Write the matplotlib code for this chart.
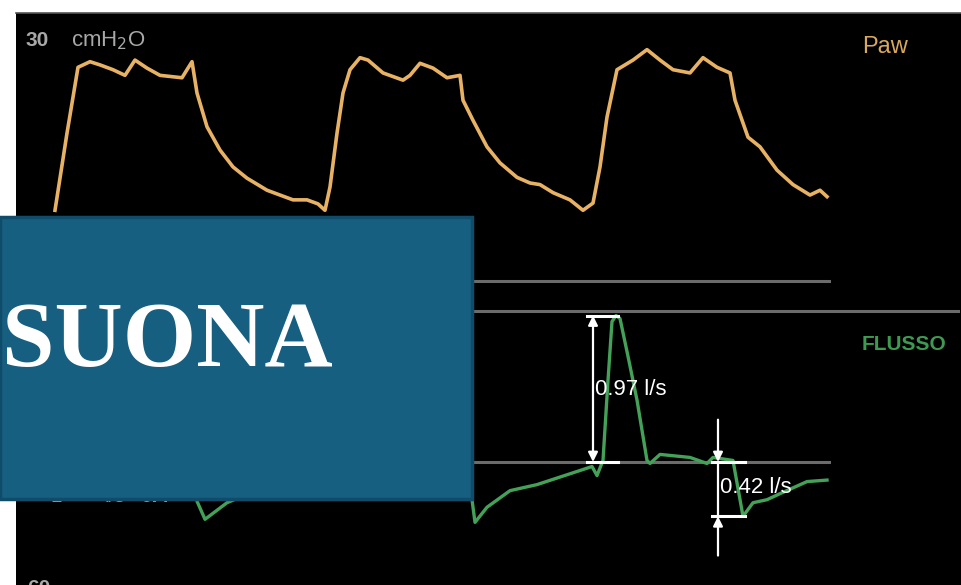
import matplotlib
matplotlib.use("Agg")
import matplotlib.pyplot as plt
import numpy as np
from matplotlib.patches import Rectangle

# --- data ----------------------------------------------------------------
# time in s, airway pressure in cmH2O
paw_t = [0.00, 0.12, 0.23, 0.35, 0.45, 0.58, 0.70, 0.80, 0.92, 1.05, 1.27, 1.37,
         1.42, 1.52, 1.65, 1.78, 1.92, 2.12, 2.38, 2.52, 2.63, 2.70, 2.75, 2.82,
         2.88, 2.95, 3.05, 3.13, 3.28, 3.48, 3.55, 3.65, 3.78, 3.92, 4.05, 4.08,
         4.18, 4.32, 4.45, 4.62, 4.75, 4.85, 4.98, 5.15, 5.28, 5.38, 5.45, 5.52,
         5.62, 5.78, 5.92, 6.05, 6.18, 6.35, 6.48, 6.62, 6.75, 6.80, 6.93, 7.05,
         7.22, 7.38, 7.55, 7.65, 7.72]
paw_p = [8.8, 18.4, 26.6, 27.3, 26.9, 26.3, 25.6, 27.5, 26.5, 25.6, 25.3, 27.3,
         23.4, 19.2, 16.3, 14.2, 12.8, 11.3, 10.1, 10.1, 9.6, 8.8, 11.7, 18.4,
         23.4, 26.3, 27.8, 27.5, 25.9, 25.0, 25.6, 27.1, 26.5, 25.3, 25.6, 22.5,
         20.0, 16.7, 14.7, 12.9, 12.2, 12.0, 11.0, 10.1, 8.8, 9.7, 14.2, 20.4,
         26.3, 27.5, 28.8, 27.5, 26.3, 25.9, 27.8, 26.6, 25.9, 22.5, 17.9, 16.7,
         13.8, 12.0, 10.7, 11.3, 10.5]

# flow in l/s (gap where the trace is hidden)
flow_t = [1.37, 1.42, 1.50, 1.72, 1.90, np.nan,
          4.08, 4.17, 4.20, 4.32, 4.55, 4.82, 5.05, 5.28, 5.37, 5.42, 5.48,
          5.53, 5.57, 5.61, 5.65, 5.73, 5.82, 5.92, 5.95, 6.05, 6.35, 6.52,
          6.58, 6.78, 6.88, 6.98, 7.12, 7.25, 7.52, 7.72]
flow_f = [0.00, -0.26, -0.38, -0.27, -0.22, np.nan,
          0.00, -0.25, -0.40, -0.30, -0.19, -0.15, -0.10, -0.05, -0.03, -0.09, 0.01,
          0.54, 0.93, 0.97, 0.95, 0.70, 0.41, 0.01, -0.01, 0.05, 0.03, -0.01,
          0.03, 0.01, -0.36, -0.27, -0.25, -0.21, -0.13, -0.12]

peak_label = "0.97 l/s"
drop_label = "0.42 l/s"

W, H = 961, 585
fig = plt.figure(figsize=(W / 100, H / 100), dpi=100, facecolor="white")

# black monitor panel, Paw on left scale, flow on twin scale
ax = fig.add_axes([16 / W, 0, 945 / W, 572 / H], facecolor="black")
ax.set_xlim(-0.39, 9.06)
ax.set_ylim(-37.84, 33.36)
ax2 = ax.twinx()
ax2.set_ylim(-0.815, 2.974)
for a in (ax, ax2):
    a.set_xticks([])
    a.set_yticks([])
    for s in a.spines.values():
        s.set_visible(False)
ax.spines["top"].set_visible(True)
ax.spines["top"].set_color("#555555")
ax.spines["top"].set_linewidth(1.2)

grey = "#6b6b6b"
ax.plot([-0.39, 7.74], [0, 0], color=grey, lw=2.2)
ax2.plot([-0.39, 9.03], [1.0, 1.0], color=grey, lw=2.2)
ax2.plot([-0.39, 7.74], [0, 0], color=grey, lw=2.2)

ax.plot(paw_t, paw_p, color="#e8b265", lw=2.6, solid_joinstyle="round")
ax2.plot(flow_t, flow_f, color="#43a158", lw=2.4, solid_joinstyle="round")

# measurement markers
sans = ["Liberation Sans", "DejaVu Sans"]
peak = max(f for f in flow_f if f == f)
low = flow_f[flow_t.index(6.88)]
white = "white"
ax2.plot([5.32, 5.63], [peak, peak], color=white, lw=2.2)
ax2.plot([5.32, 5.63], [0, 0], color=white, lw=2.2)
ax2.annotate("", xy=(5.38, peak), xytext=(5.38, 0),
             arrowprops=dict(arrowstyle="<|-|>", color=white, lw=1.6,
                             mutation_scale=14, shrinkA=0, shrinkB=0))
ax2.text(5.40, 0.48, peak_label, color=white, fontsize=16,
         family=sans, va="center", ha="left")

ax2.plot([6.57, 6.90], [0, 0], color=white, lw=2.2)
ax2.plot([6.57, 6.90], [low, low], color=white, lw=2.2)
ax2.plot([6.63, 6.63], [0, low], color=white, lw=1.6)
ax2.annotate("", xy=(6.63, 0), xytext=(6.63, 0.28),
             arrowprops=dict(arrowstyle="-|>", color=white, lw=1.6,
                             mutation_scale=14, shrinkA=0, shrinkB=0))
ax2.annotate("", xy=(6.63, low), xytext=(6.63, -0.62),
             arrowprops=dict(arrowstyle="-|>", color=white, lw=1.6,
                             mutation_scale=14, shrinkA=0, shrinkB=0))
ax2.text(6.655, -0.17, drop_label, color=white, fontsize=16,
         family=sans, va="center", ha="left")

# overlay in pixel units for labels and the title box
ov = fig.add_axes([0, 0, 1, 1], zorder=5)
ov.set_xlim(0, W)
ov.set_ylim(H, 0)
ov.axis("off")
ov.patch.set_alpha(0)

ov.text(26, 41, "30", color="#a8a8a8", fontsize=15, weight="bold", family=sans, va="center")
ov.text(71, 41, "cmH$_2$O", color="#a8a8a8", fontsize=16, family=sans, va="center")
ov.text(862, 47, "Paw", color="#d8a85c", fontsize=17, family=sans, va="center")
ov.text(862, 345, "FLUSSO", color="#3d9a50", fontsize=15, weight="bold", family=sans, va="center")
ov.text(27, 588, "60", color="#a8a8a8", fontsize=15, weight="bold", family=sans, va="center")
ov.text(44, 496, "-1", color="#a8a8a8", fontsize=15, family=sans, va="center")
ov.text(105, 496, "l/s", color="#a8a8a8", fontsize=15, family=sans, va="center")
ov.text(140, 496, "0.4", color="#a8a8a8", fontsize=15, weight="bold", family=sans, va="center")

ov.add_patch(Rectangle((0, 217), 472, 282, facecolor="#175f80",
                       edgecolor="#0f4c69", lw=2.5, zorder=6))
ov.text(2, 366, "SUONA", color="white", fontsize=68, weight="bold",
        family=["Liberation Serif", "DejaVu Serif"], va="baseline", ha="left", zorder=7)

fig.savefig("out.png", dpi=100, facecolor="white")
